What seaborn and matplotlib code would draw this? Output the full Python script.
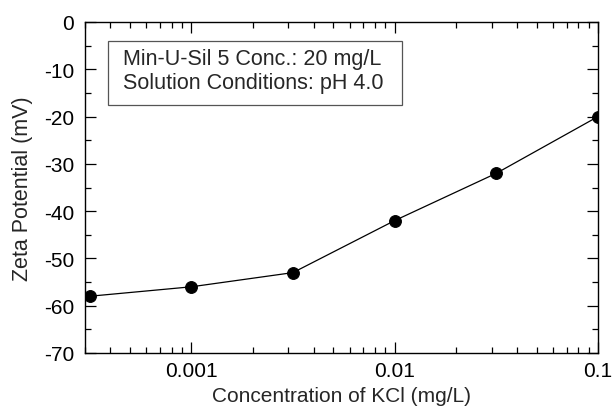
import numpy as np
import pandas as pd
import matplotlib
matplotlib.use("Agg")
import matplotlib.pyplot as plt
from matplotlib.patches import Rectangle
import seaborn as sns
from matplotlib.ticker import LogLocator, FixedLocator, MultipleLocator, FuncFormatter

# Data
kcl_conc = [0.000316, 0.001, 0.00316, 0.01, 0.0316, 0.1]
zeta_mv = [-58, -56, -53, -42, -32, -20]

df = pd.DataFrame({"conc": kcl_conc, "zeta": zeta_mv})

sns.set_style("ticks")
plt.rcParams['font.family'] = ['Liberation Sans', 'DejaVu Sans']
plt.rcParams['axes.unicode_minus'] = False

fig = plt.figure(figsize=(6.14, 4.10), dpi=100)
ax = fig.add_axes([85 / 614, 1 - 354 / 410, (598 - 85) / 614, (354 - 23) / 410])

sns.lineplot(data=df, x="conc", y="zeta", ax=ax, color="black", linewidth=0.9,
             marker="o", markersize=8.5, markeredgecolor="black", markerfacecolor="black")

ax.set_xscale("log")
ax.set_xlim(0.0003, 0.1)
ax.set_ylim(-70, 0)

ax.xaxis.set_major_locator(FixedLocator([0.001, 0.01, 0.1]))
ax.xaxis.set_major_formatter(FuncFormatter(lambda v, p: f"{v:g}"))
ax.xaxis.set_minor_locator(LogLocator(base=10, subs=np.arange(2, 10)))
ax.yaxis.set_major_locator(MultipleLocator(10))
ax.yaxis.set_minor_locator(MultipleLocator(5))

ax.tick_params(which="both", direction="in", top=True, right=True, width=0.9,
               labelsize=15, colors="black", pad=8)
ax.tick_params(axis="x", which="both", pad=6)
ax.tick_params(which="major", length=8)
ax.tick_params(which="minor", length=4.5)
for s in ax.spines.values():
    s.set_linewidth(1.0)
    s.set_color("black")

ax.set_xlabel("Concentration of KCl (mg/L)", fontsize=15, labelpad=4)
ax.set_ylabel("Zeta Potential (mV)", fontsize=15.5, labelpad=8)

# annotation box
ax.add_patch(Rectangle((0.045, 0.749), 0.573, 0.194, transform=ax.transAxes,
                       facecolor="white", edgecolor="#555555", linewidth=0.9, zorder=3))
ax.text(0.074, 0.921,
        "Min-U-Sil 5 Conc.: 20 mg/L\nSolution Conditions: pH 4.0",
        transform=ax.transAxes, ha="left", va="top", fontsize=15.5, linespacing=1.2,
        zorder=4)

fig.savefig("out.png", dpi=100)
